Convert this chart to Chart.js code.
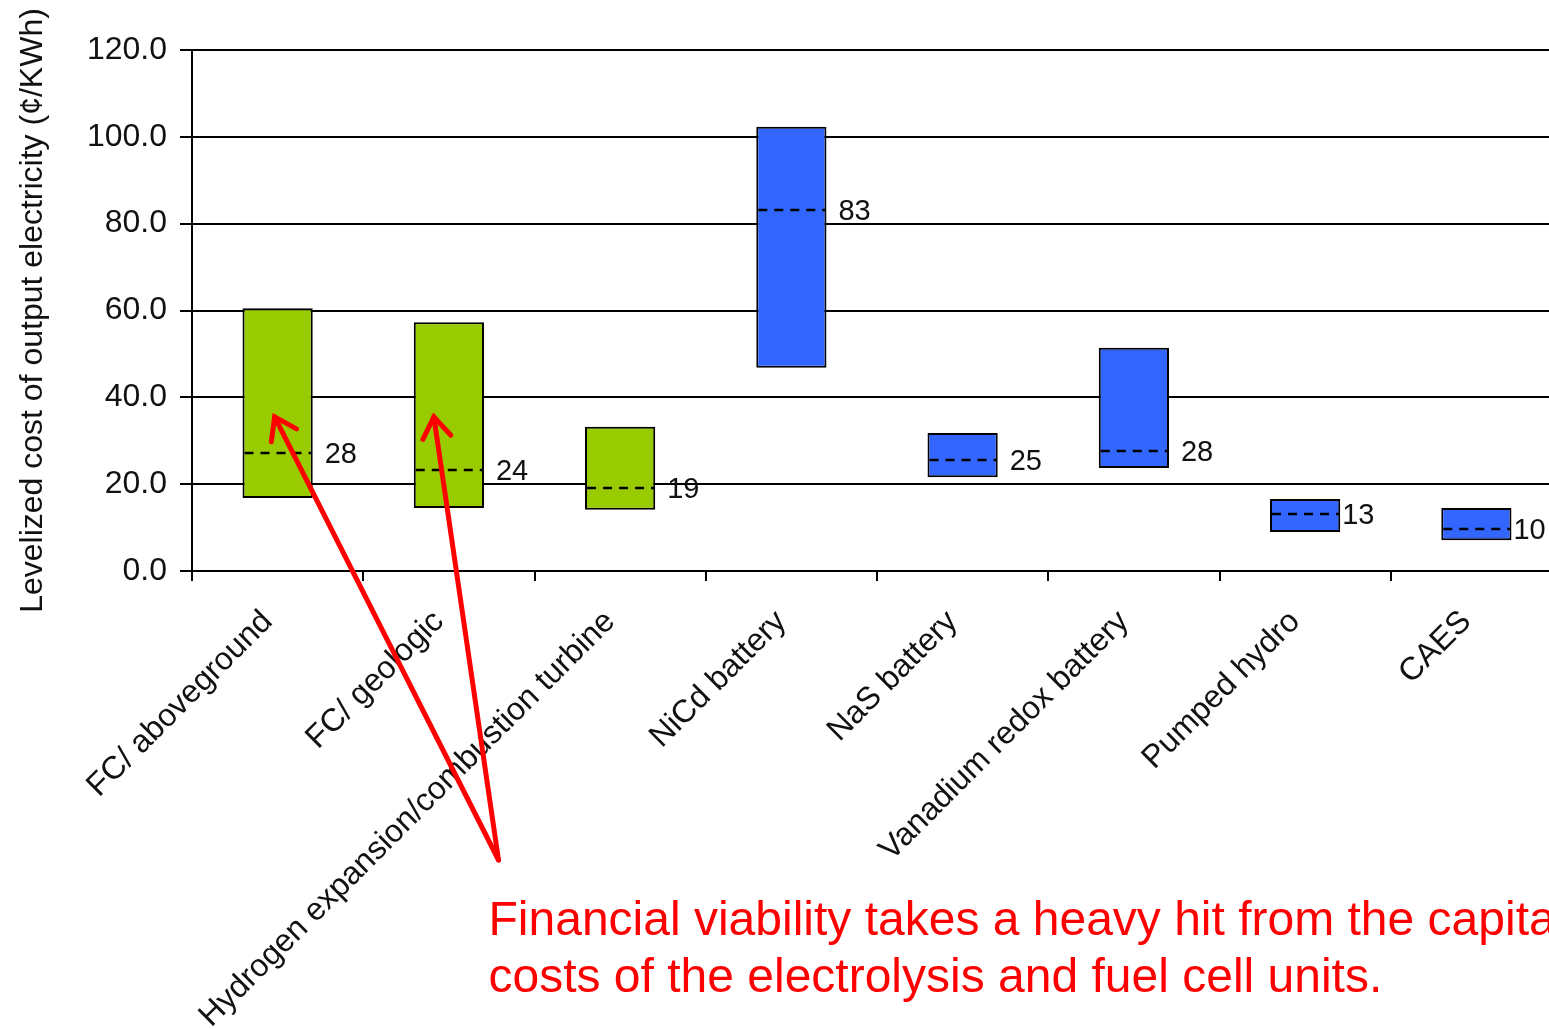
<!DOCTYPE html>
<html>
<head>
<meta charset="utf-8">
<script src="https://cdn.jsdelivr.net/npm/chart.js@4.4.1/dist/chart.umd.min.js"></script>
<style>
html,body{margin:0;padding:0;overflow:hidden;background:#fff;width:1549px;height:1029px;}
#wrap{position:absolute;left:0;top:0;width:1562px;height:1029px;}
</style>
</head>
<body>
<div id="wrap"><canvas id="c"></canvas></div>
<script>
// ---- data ----
const categories = ['FC/ aboveground','FC/ geologic','Hydrogen expansion/combustion turbine','NiCd battery','NaS battery','Vanadium redox battery','Pumped hydro','CAES'];
const lowValues  = [16.8, 14.5, 14.1, 46.8, 21.6, 23.7, 9.0, 7.1];
const highValues = [60.5, 57.3, 33.2, 102.3, 31.8, 51.4, 16.6, 14.5];
const midValues  = [27.2, 23.3, 19.1, 83.1, 25.6, 27.6, 13.1, 9.7];
const midLabels  = ['28','24','19','83','25','28','13','10'];
const groupColor = ['#99CC00','#99CC00','#99CC00','#3366FF','#3366FF','#3366FF','#3366FF','#3366FF'];
const yTicks = [0, 20, 40, 60, 80, 100, 120];
const yTitle = 'Levelized cost of output electricity (\u00A2/KWh)';
const noteLines = ['Financial viability takes a heavy hit from the capital','costs of the electrolysis and fuel cell units.'];
const arrowTargets = [{cat:0, value:35.5, dx:-3}, {cat:1, value:35.5, dx:-15}];

const FONT = 'Arial, "Liberation Sans", sans-serif';

const medianPlugin = {
  id:'median',
  afterDatasetsDraw(chart){
    const ctx = chart.ctx;
    const meta = chart.getDatasetMeta(0);
    const y = chart.scales.y;
    ctx.save();
    meta.data.forEach((bar, i) => {
      const half = bar.width/2;
      const yy = Math.round(y.getPixelForValue(midValues[i]));
      ctx.strokeStyle = '#000';
      ctx.lineWidth = 2.5;
      ctx.setLineDash([9,7]);
      ctx.beginPath();
      ctx.moveTo(bar.x - half + 2, yy);
      ctx.lineTo(bar.x + half - 1, yy);
      ctx.stroke();
      ctx.setLineDash([]);
      ctx.fillStyle = '#111';
      ctx.font = '29px ' + FONT;
      ctx.textBaseline = 'middle';
      ctx.textAlign = 'left';
      ctx.fillText(midLabels[i], bar.x + half + (i >= 6 ? 2 : 12), yy + 2);
    });
    ctx.restore();
  },
  afterDraw(chart){
    const ctx = chart.ctx;
    const x = chart.scales.x, y = chart.scales.y;
    ctx.save();
    ctx.fillStyle = '#FF0000';
    ctx.font = '48px ' + FONT;
    ctx.textBaseline = 'alphabetic';
    ctx.textAlign = 'left';
    const catW = x.getPixelForValue(1) - x.getPixelForValue(0);
    const noteX = x.getPixelForValue(2) - catW/2 - 46;
    ctx.fillText(noteLines[0], noteX, 935);
    ctx.fillText(noteLines[1], noteX, 992);
    const tail = {x: noteX + 10, y: 860};
    ctx.strokeStyle = '#FF0000';
    ctx.lineWidth = 5;
    ctx.lineCap = 'round';
    arrowTargets.forEach(t => {
      const tx = x.getPixelForValue(t.cat) + t.dx;
      const ty = y.getPixelForValue(t.value);
      ctx.beginPath();
      ctx.moveTo(tail.x, tail.y);
      ctx.lineTo(tx, ty);
      ctx.stroke();
      const ang = Math.atan2(ty - tail.y, tx - tail.x);
      const L = 25, spread = 0.6;
      ctx.beginPath();
      ctx.moveTo(tx - L*Math.cos(ang - spread), ty - L*Math.sin(ang - spread));
      ctx.lineTo(tx, ty);
      ctx.lineTo(tx - L*Math.cos(ang + spread), ty - L*Math.sin(ang + spread));
      ctx.stroke();
    });
    ctx.restore();
  }
};

new Chart(document.getElementById('c'), {
  type:'bar',
  data:{
    labels: categories,
    datasets:[{
      data: lowValues.map((v,i)=>[v, highValues[i]]),
      backgroundColor: groupColor,
      borderColor:'#000',
      borderWidth:2,
      borderSkipped:false,
      barPercentage:0.41,
      categoryPercentage:1.0
    }]
  },
  options:{
    responsive:true,
    maintainAspectRatio:false,
    animation:false,
    layout:{padding:{top:50, left:0, right:0, bottom:0}},
    plugins:{legend:{display:false}, tooltip:{enabled:false}},
    scales:{
      x:{
        offset:true,
        grid:{display:true, drawOnChartArea:false, drawTicks:true, tickLength:10, color:'#000', lineWidth:2, offset:true},
        border:{display:true, color:'#000', width:2},
        ticks:{color:'#111', font:{family:FONT, size:32}, maxRotation:45, minRotation:45, padding:22, labelOffset:-10, autoSkip:false},
        afterFit(s){ s.height = 458; }
      },
      y:{
        min:0, max:120,
        afterBuildTicks(s){ s.ticks = yTicks.map(v=>({value:v})); },
        grid:{color:'#000', lineWidth:2, tickLength:12},
        border:{display:true, color:'#000', width:2},
        ticks:{color:'#111', font:{family:FONT, size:32}, padding:13, callback:v=>Number(v).toFixed(1)},
        title:{display:true, text:yTitle, color:'#111', font:{family:FONT, size:32}, padding:{top:14,bottom:0}},
        afterFit(s){ s.width = 192; }
      }
    }
  },
  plugins:[medianPlugin]
});
</script>
</body>
</html>
